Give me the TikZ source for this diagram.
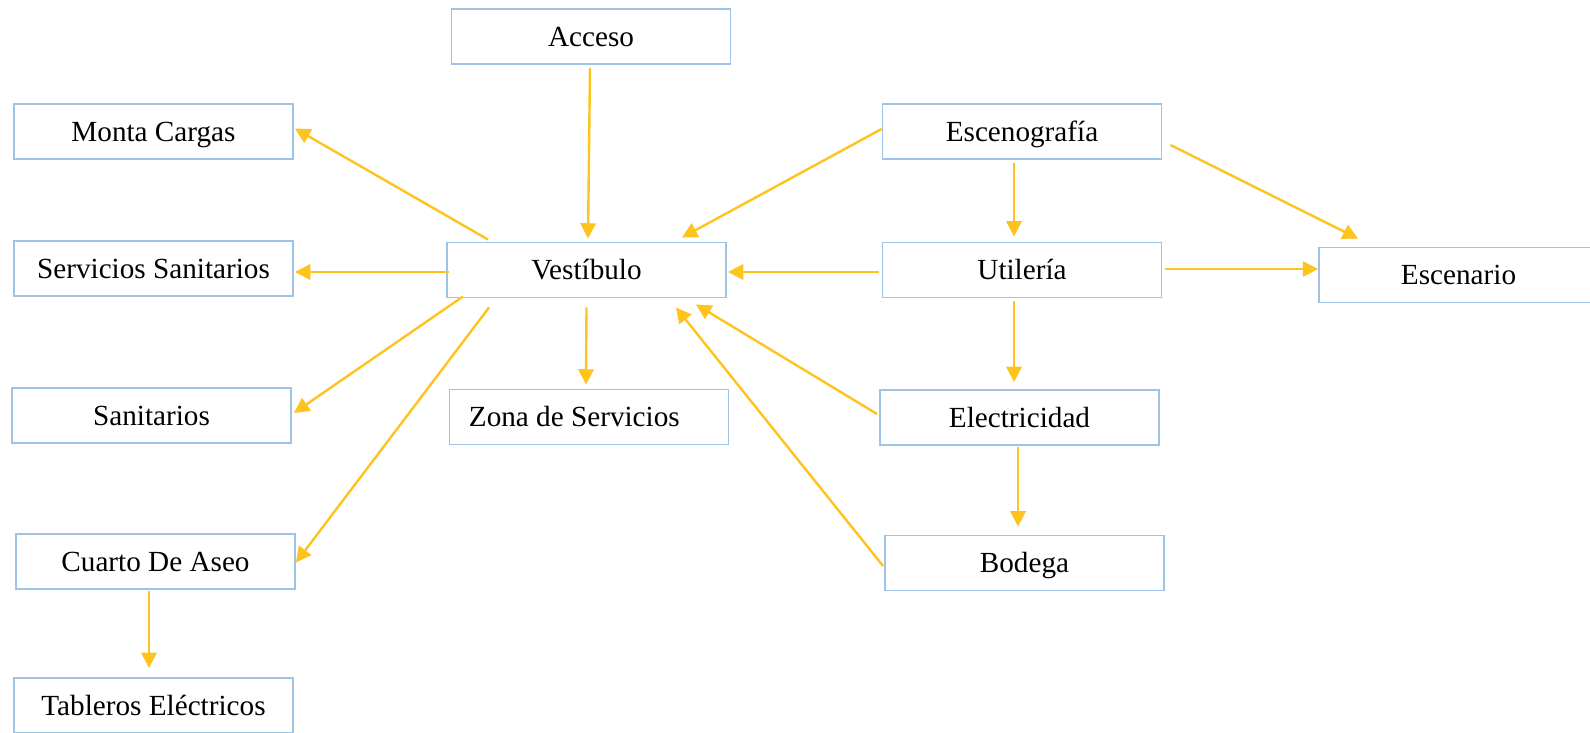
\documentclass[tikz,border=0pt]{standalone}
\usepackage{fontspec}
\setmainfont{Liberation Serif}
\usetikzlibrary{arrows.meta,calc}
\definecolor{boxblue}{RGB}{157,195,230}
\definecolor{arrgold}{RGB}{255,195,30}
\begin{document}
\begin{tikzpicture}[x=0.75pt,y=-0.75pt,
  box/.style={draw=boxblue, line width=1.4pt, minimum width=209.25pt, minimum height=41.25pt, inner sep=0pt, text height=18pt, text depth=3.6pt, font=\fontsize{21.9}{26}\selectfont},
  conn/.style={draw=arrgold, line width=1.8pt, -{Triangle[length=11.5pt,width=11.5pt]}}]
\useasboundingbox (0,0) rectangle (1590,732);
\clip (0,0) rectangle (1590,732);
\node[box] (acc) at (591,36.5) {Acceso};
\node[box] (monta) at (153.5,131.5) {Monta Cargas};
\node[box] (servsan) at (153.5,268.5) {Servicios Sanitarios};
\node[box] (san) at (151.5,415.5) {Sanitarios};
\node[box] (cuarto) at (155.5,561.5) {Cuarto De Aseo};
\node[box] (tab) at (153.5,705.5) {Tableros Eléctricos};
\node[box] (vest) at (586.5,270) {Vestíbulo};
\node[box] (zona) at (589,417) {Zona de Servicios\kern22pt\null};
\node[box] (esceno) at (1022,131.5) {Escenografía};
\node[box] (util) at (1022,270) {Utilería};
\node[box] (escen) at (1458.5,275) {Escenario};
\node[box] (elec) at (1019.5,417.5) {Electricidad};
\node[box] (bod) at (1024.5,563) {Bodega};
\draw[conn] ($(acc.south)+(-1,3)$) -- ($(vest.north)+(1.5,-3)$);
\draw[conn] ($(vest.north west)+(42,-2)$) -- ($(monta.east)+(1,-3)$);
\draw[conn] ($(vest.west)+(3,2)$) -- ($(servsan.east)+(1,3.5)$);
\draw[conn] ($(vest.south west)+(17,-2)$) -- ($(san.east)+(2,-2.5)$);
\draw[conn] ($(vest.south west)+(43,9)$) -- ($(cuarto.east)+(0,1)$);
\draw[conn] ($(vest.south)+(0,9)$) -- ($(zona.north)+(-3,-4)$);
\draw[conn] ($(esceno.west)+(0,-2.5)$) -- ($(vest.north east)+(-45,-4)$);
\draw[conn] ($(util.west)+(-3,2)$) -- ($(vest.east)+(1,2)$);
\draw[conn] ($(elec.west)+(-2,-3.5)$) -- ($(vest.south east)+(-31,6)$);
\draw[conn] ($(bod.west)+(-1,3)$) -- ($(vest.south east)+(-51,9)$);
\draw[conn] ($(esceno.south)+(-8,3)$) -- ($(util.north)+(-8,-5)$);
\draw[conn] ($(esceno.east)+(8,13.5)$) -- ($(escen.north west)+(40,-8)$);
\draw[conn] ($(util.east)+(3,-1)$) -- ($(escen.west)+(0,-6)$);
\draw[conn] ($(util.south)+(-8,3)$) -- ($(elec.north)+(-5.5,-7)$);
\draw[conn] ($(elec.south)+(-1.5,1)$) -- ($(bod.north)+(-6.5,-8)$);
\draw[conn] ($(cuarto.south)+(-6.5,1)$) -- ($(tab.north)+(-4.5,-9)$);
\end{tikzpicture}
\end{document}
